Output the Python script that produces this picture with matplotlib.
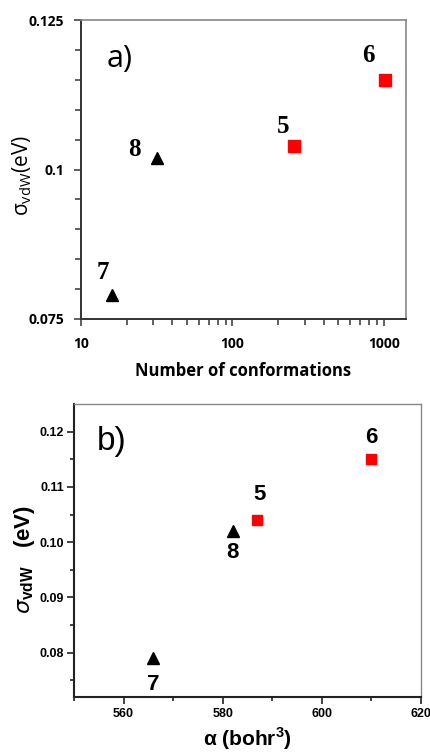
import matplotlib
matplotlib.use("Agg")
import matplotlib.pyplot as plt
from matplotlib.ticker import FixedLocator, MultipleLocator, NullFormatter, FixedFormatter

# Molecule labels and their values
labels_tri = ["7", "8"]
labels_sq = ["5", "6"]
conformations_tri = [16, 32]
conformations_sq = [256, 1024]
alpha_tri = [566, 582]
alpha_sq = [587, 610]
sigma_tri = [0.079, 0.102]
sigma_sq = [0.104, 0.115]

W, H = 431, 755
PT = 0.72  # points per pixel at 100 dpi
fig = plt.figure(figsize=(W / 100, H / 100), dpi=100)


def box(l, t, r, b):
    return [l / W, 1 - b / H, (r - l) / W, (b - t) / H]


# ---------- panel a ----------
ax1 = fig.add_axes(box(81, 20, 406, 319))
ax1.set_xscale("log")
ax1.set_xlim(10, 1400)
ax1.set_ylim(0.075, 0.125)
ax1.plot(conformations_tri, sigma_tri, "^", color="black", ms=8, mec="black")
ax1.plot(conformations_sq, sigma_sq, "s", color="#ff0000", ms=9, mec="#ff0000")
serif = dict(family="Liberation Serif", fontweight="bold", fontsize=18)
off_a = {"7": (-9, 23), "8": (-23, 8), "5": (-11, 19), "6": (-17, 24)}
for lab, x, y in zip(labels_tri + labels_sq, conformations_tri + conformations_sq,
                     sigma_tri + sigma_sq):
    dx, dy = off_a[lab]
    ax1.annotate(lab, (x, y), xytext=(dx * PT, dy * PT), textcoords="offset points",
                 ha="center", va="center", **serif)
ax1.text(0.12, 0.87, "a)", transform=ax1.transAxes, fontsize=22,
         family="Open Sans", va="center", ha="center")
ax1.yaxis.set_major_locator(FixedLocator([0.075, 0.1, 0.125]))
ax1.yaxis.set_major_formatter(FixedFormatter(["0.075", "0.1", "0.125"]))
ax1.yaxis.set_minor_locator(MultipleLocator(0.005))
ax1.xaxis.set_major_locator(FixedLocator([10, 100, 1000]))
ax1.xaxis.set_major_formatter(FixedFormatter(["10", "100", "1000"]))
ax1.xaxis.set_minor_formatter(NullFormatter())
for lab in ax1.get_xticklabels() + ax1.get_yticklabels():
    lab.set_family("Open Sans")
    lab.set_fontweight("bold")
    lab.set_fontsize(10)
ax1.tick_params(which="both", direction="out", color="#444444", width=1.2)
ax1.tick_params(which="major", length=5)
ax1.tick_params(which="minor", length=4)
ax1.tick_params(axis="y", pad=7)
ax1.tick_params(axis="x", pad=8)
for s in ["left", "bottom"]:
    ax1.spines[s].set_color("#333333")
    ax1.spines[s].set_linewidth(1.4)
for s in ["top", "right"]:
    ax1.spines[s].set_color("#888888")
    ax1.spines[s].set_linewidth(1.2)
ax1.set_xlabel("Number of conformations", family="Open Sans", fontweight="bold",
               fontsize=12, labelpad=8)
ax1.set_ylabel(r"$\mathregular{\sigma_{vdW}}$(eV)", family="Open Sans", fontsize=15)
ax1.yaxis.set_label_coords(-0.145, 0.48)

# ---------- panel b ----------
ax2 = fig.add_axes(box(74, 404, 421, 697))
ax2.set_xlim(550, 620)
ax2.set_ylim(0.072, 0.125)
ax2.plot(alpha_tri, sigma_tri, "^", color="black", ms=8, mec="black")
ax2.plot(alpha_sq, sigma_sq, "s", color="#ff0000", ms=7, mec="#ff0000")
sans = dict(family="Liberation Sans", fontweight="bold", fontsize=16)
off_b = {"7": (0, -26), "8": (0, -21), "5": (2, 26), "6": (0, 22)}
for lab, x, y in zip(labels_tri + labels_sq, alpha_tri + alpha_sq, sigma_tri + sigma_sq):
    dx, dy = off_b[lab]
    ax2.annotate(lab, (x, y), xytext=(dx * PT, dy * PT), textcoords="offset points",
                 ha="center", va="center", **sans)
ax2.text(0.11, 0.871, "b)", transform=ax2.transAxes, fontsize=24,
         family="Liberation Sans", va="center", ha="center")
ax2.xaxis.set_major_locator(MultipleLocator(20))
ax2.xaxis.set_minor_locator(MultipleLocator(10))
ax2.yaxis.set_major_locator(FixedLocator([0.08, 0.09, 0.10, 0.11, 0.12]))
ax2.yaxis.set_major_formatter(FixedFormatter(["0.08", "0.09", "0.10", "0.11", "0.12"]))
ax2.yaxis.set_minor_locator(FixedLocator([0.075, 0.085, 0.095, 0.105, 0.115]))
for lab in ax2.get_xticklabels() + ax2.get_yticklabels():
    lab.set_family("Liberation Sans")
    lab.set_fontweight("bold")
    lab.set_fontsize(9)
ax2.tick_params(which="both", direction="out", color="#222222", width=1.2)
ax2.tick_params(which="major", length=5)
ax2.tick_params(which="minor", length=3)
ax2.tick_params(axis="x", pad=3)
ax2.tick_params(axis="y", pad=2)
for s in ["left", "bottom"]:
    ax2.spines[s].set_color("#222222")
    ax2.spines[s].set_linewidth(1.5)
for s in ["top", "right"]:
    ax2.spines[s].set_color("#888888")
    ax2.spines[s].set_linewidth(1.0)
ax2.set_xlabel(r"α (bohr$^\mathregular{3}$)", family="Liberation Sans", fontweight="bold",
               fontsize=15, labelpad=4)
ax2.set_ylabel(r"$\sigma_{\mathregular{vdW}}$   (eV)", family="Liberation Sans",
               fontweight="bold", fontsize=16)
ax2.yaxis.set_label_coords(-0.107, 0.47)

fig.savefig("out.png", dpi=100, facecolor="white")
